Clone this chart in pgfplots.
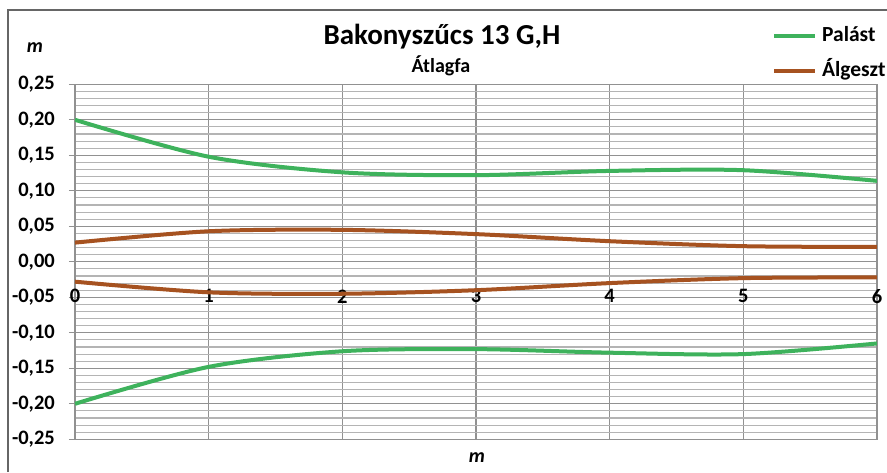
\documentclass[border=0pt]{standalone}
\usepackage{fontspec}
\setmainfont{Carlito}
\usepackage{pgfplots}
\pgfplotsset{compat=1.18}

\definecolor{palast}{RGB}{62,178,92}
\definecolor{algeszt}{RGB}{166,82,32}
\definecolor{majgrid}{RGB}{145,145,145}
\definecolor{mingrid}{RGB}{180,180,180}

\begin{document}
\begin{tikzpicture}[x=1pt,y=1pt]
\useasboundingbox (0,0) rectangle (887,472);
% frame of the original figure
\draw[line width=2pt, black!60] (8,0) -- (8,462) -- (887,462);

\begin{axis}[
  at={(75pt,32.7pt)}, anchor=south west,
  scale only axis, width=802pt, height=355pt,
  xmin=0, xmax=6, ymin=-0.25, ymax=0.25,
  xtick={0,1,2,3,4,5,6},
  ytick={-0.25,-0.20,-0.15,-0.10,-0.05,0,0.05,0.10,0.15,0.20,0.25},
  minor y tick num=4,
  grid=both,
  major grid style={majgrid, line width=1.2pt},
  minor grid style={mingrid, line width=1.1pt},
  axis line style={majgrid, line width=1.2pt},
  xtick style={draw=none},
  minor y tick style={draw=none},
  ytick style={majgrid, line width=1.2pt},
  ytick pos=left, tick align=outside, major tick length=6pt,
  ticklabel style={font=\bfseries\fontsize{20.5}{20.5}\selectfont},
  /pgf/number format/assume math mode=true,
  yticklabel style={/pgf/number format/use comma, /pgf/number format/fixed,
    /pgf/number format/fixed zerofill, /pgf/number format/precision=2,
    anchor=east, inner sep=0pt, xshift=-14pt},
  xticklabel style={anchor=center, yshift=149pt},
  legend style={draw=none, fill=none, at={(0.869,1.170)}, anchor=north west,
    inner sep=0pt, row sep=12pt, column sep=3pt,
    font=\bfseries\fontsize{21.5}{21.5}\selectfont,
    nodes={inner sep=2pt, text height=15pt, text depth=4pt}},
  legend cell align=left,
  legend image code/.code={\draw[#1, line width=4pt] (0pt,0pt) -- (41pt,0pt);},
]
\addplot[palast, line width=4pt, smooth] coordinates {
  (0,0.200) (1,0.148) (2,0.126) (3,0.122) (4,0.128) (5,0.129) (6,0.114)};
\addlegendentry{Palást}
\addplot[algeszt, line width=4pt, smooth] coordinates {
  (0,0.027) (1,0.043) (2,0.045) (3,0.039) (4,0.029) (5,0.022) (6,0.021)};
\addlegendentry{Álgeszt}
\addplot[palast, line width=4pt, smooth, forget plot] coordinates {
  (0,-0.200) (1,-0.148) (2,-0.126) (3,-0.123) (4,-0.128) (5,-0.130) (6,-0.115)};
\addplot[algeszt, line width=4pt, smooth, forget plot] coordinates {
  (0,-0.028) (1,-0.043) (2,-0.045) (3,-0.040) (4,-0.030) (5,-0.023) (6,-0.022)};
\end{axis}

\node[anchor=base, font=\bfseries\fontsize{29}{29}\selectfont] at (442,427) {Bakonyszűcs 13 G,H};
\node[anchor=base, font=\bfseries\fontsize{20}{20}\selectfont] at (441,399) {Átlagfa};
\node[font=\bfseries\itshape\fontsize{20}{20}\selectfont] at (35,424) {m};
\node[font=\bfseries\itshape\fontsize{20}{20}\selectfont] at (477,14) {m};
\end{tikzpicture}
\end{document}
